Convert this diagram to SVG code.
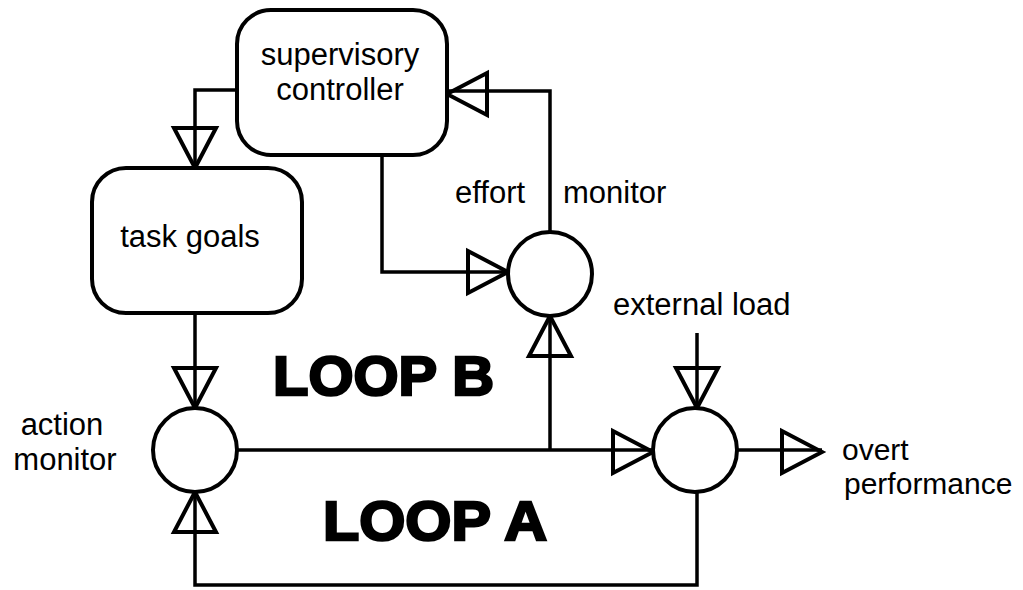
<svg xmlns="http://www.w3.org/2000/svg" xmlns:xlink="http://www.w3.org/1999/xlink" width="1023" height="590" viewBox="0 0 1023 590">
<style>
.box{fill:#fff;stroke:#000;stroke-width:4}
.ln{fill:none;stroke:#000;stroke-width:3.5}
.tri{fill:none;stroke:#000;stroke-width:4;stroke-linejoin:miter}
.t{font-family:"Liberation Sans",Arial,sans-serif;font-size:31px;fill:#000}
.s{font-size:30px}
.big{font-family:"Liberation Sans",Arial,sans-serif;font-size:56px;font-weight:bold;fill:#000;stroke:#000;stroke-width:2.5}
</style>
<defs>
<path id="tri" class="tri" d="M0,0 L-40,-21 L-40,21 Z"/>
</defs>
<rect width="1023" height="590" fill="#fff"/>
<g id="connectors">
<path class="ln" d="M237,90 H195 V168"/>
<path class="ln" d="M382,155 V272 H508"/>
<path class="ln" d="M550,232 V91 H447"/>
<path class="ln" d="M195,313 V408"/>
<path class="ln" d="M237,450 H653"/>
<path class="ln" d="M550,450 V316"/>
<path class="ln" d="M697,333 V408"/>
<path class="ln" d="M737,450 H822"/>
<path class="ln" d="M697,492 V585 H195 V492"/>
<use xlink:href="#tri" transform="translate(195,168) rotate(90)"/>
<use xlink:href="#tri" transform="translate(447,94) rotate(180)"/>
<use xlink:href="#tri" transform="translate(508,272)"/>
<use xlink:href="#tri" transform="translate(195,408) rotate(90)"/>
<use xlink:href="#tri" transform="translate(195,492) rotate(-90)"/>
<use xlink:href="#tri" transform="translate(550,316) rotate(-90)"/>
<use xlink:href="#tri" transform="translate(653,452)"/>
<use xlink:href="#tri" transform="translate(697,408) rotate(90)"/>
<use xlink:href="#tri" transform="translate(822,452)"/>
</g>
<g id="supervisory-controller">
<rect class="box" x="237" y="10" width="210" height="145" rx="34" ry="34"/>
<text class="t" x="340" y="65" text-anchor="middle">supervisory</text>
<text class="t" x="340" y="100" text-anchor="middle">controller</text>
</g>
<g id="task-goals">
<rect class="box" x="92" y="168" width="210" height="145" rx="34" ry="34"/>
<text class="t" x="190" y="247" text-anchor="middle">task goals</text>
</g>
<g id="effort-monitor">
<circle class="box" cx="550" cy="274" r="42"/>
<text class="t" x="455" y="203">effort</text>
<text class="t" x="563" y="203">monitor</text>
</g>
<g id="action-monitor">
<circle class="box" cx="195" cy="450" r="42"/>
<text class="t" x="62" y="435" text-anchor="middle">action</text>
<text class="t" x="65" y="470" text-anchor="middle">monitor</text>
</g>
<g id="performance-junction">
<circle class="box" cx="695" cy="450" r="42"/>
<text class="t" x="613" y="315">external load</text>
<text class="t s" x="842" y="460">overt</text>
<text class="t s" x="844" y="494">performance</text>
</g>
<g id="loops">
<text class="big" x="273" y="395" textLength="221" lengthAdjust="spacingAndGlyphs">LOOP B</text>
<text class="big" x="323" y="540" textLength="224" lengthAdjust="spacingAndGlyphs">LOOP A</text>
</g>
</svg>
